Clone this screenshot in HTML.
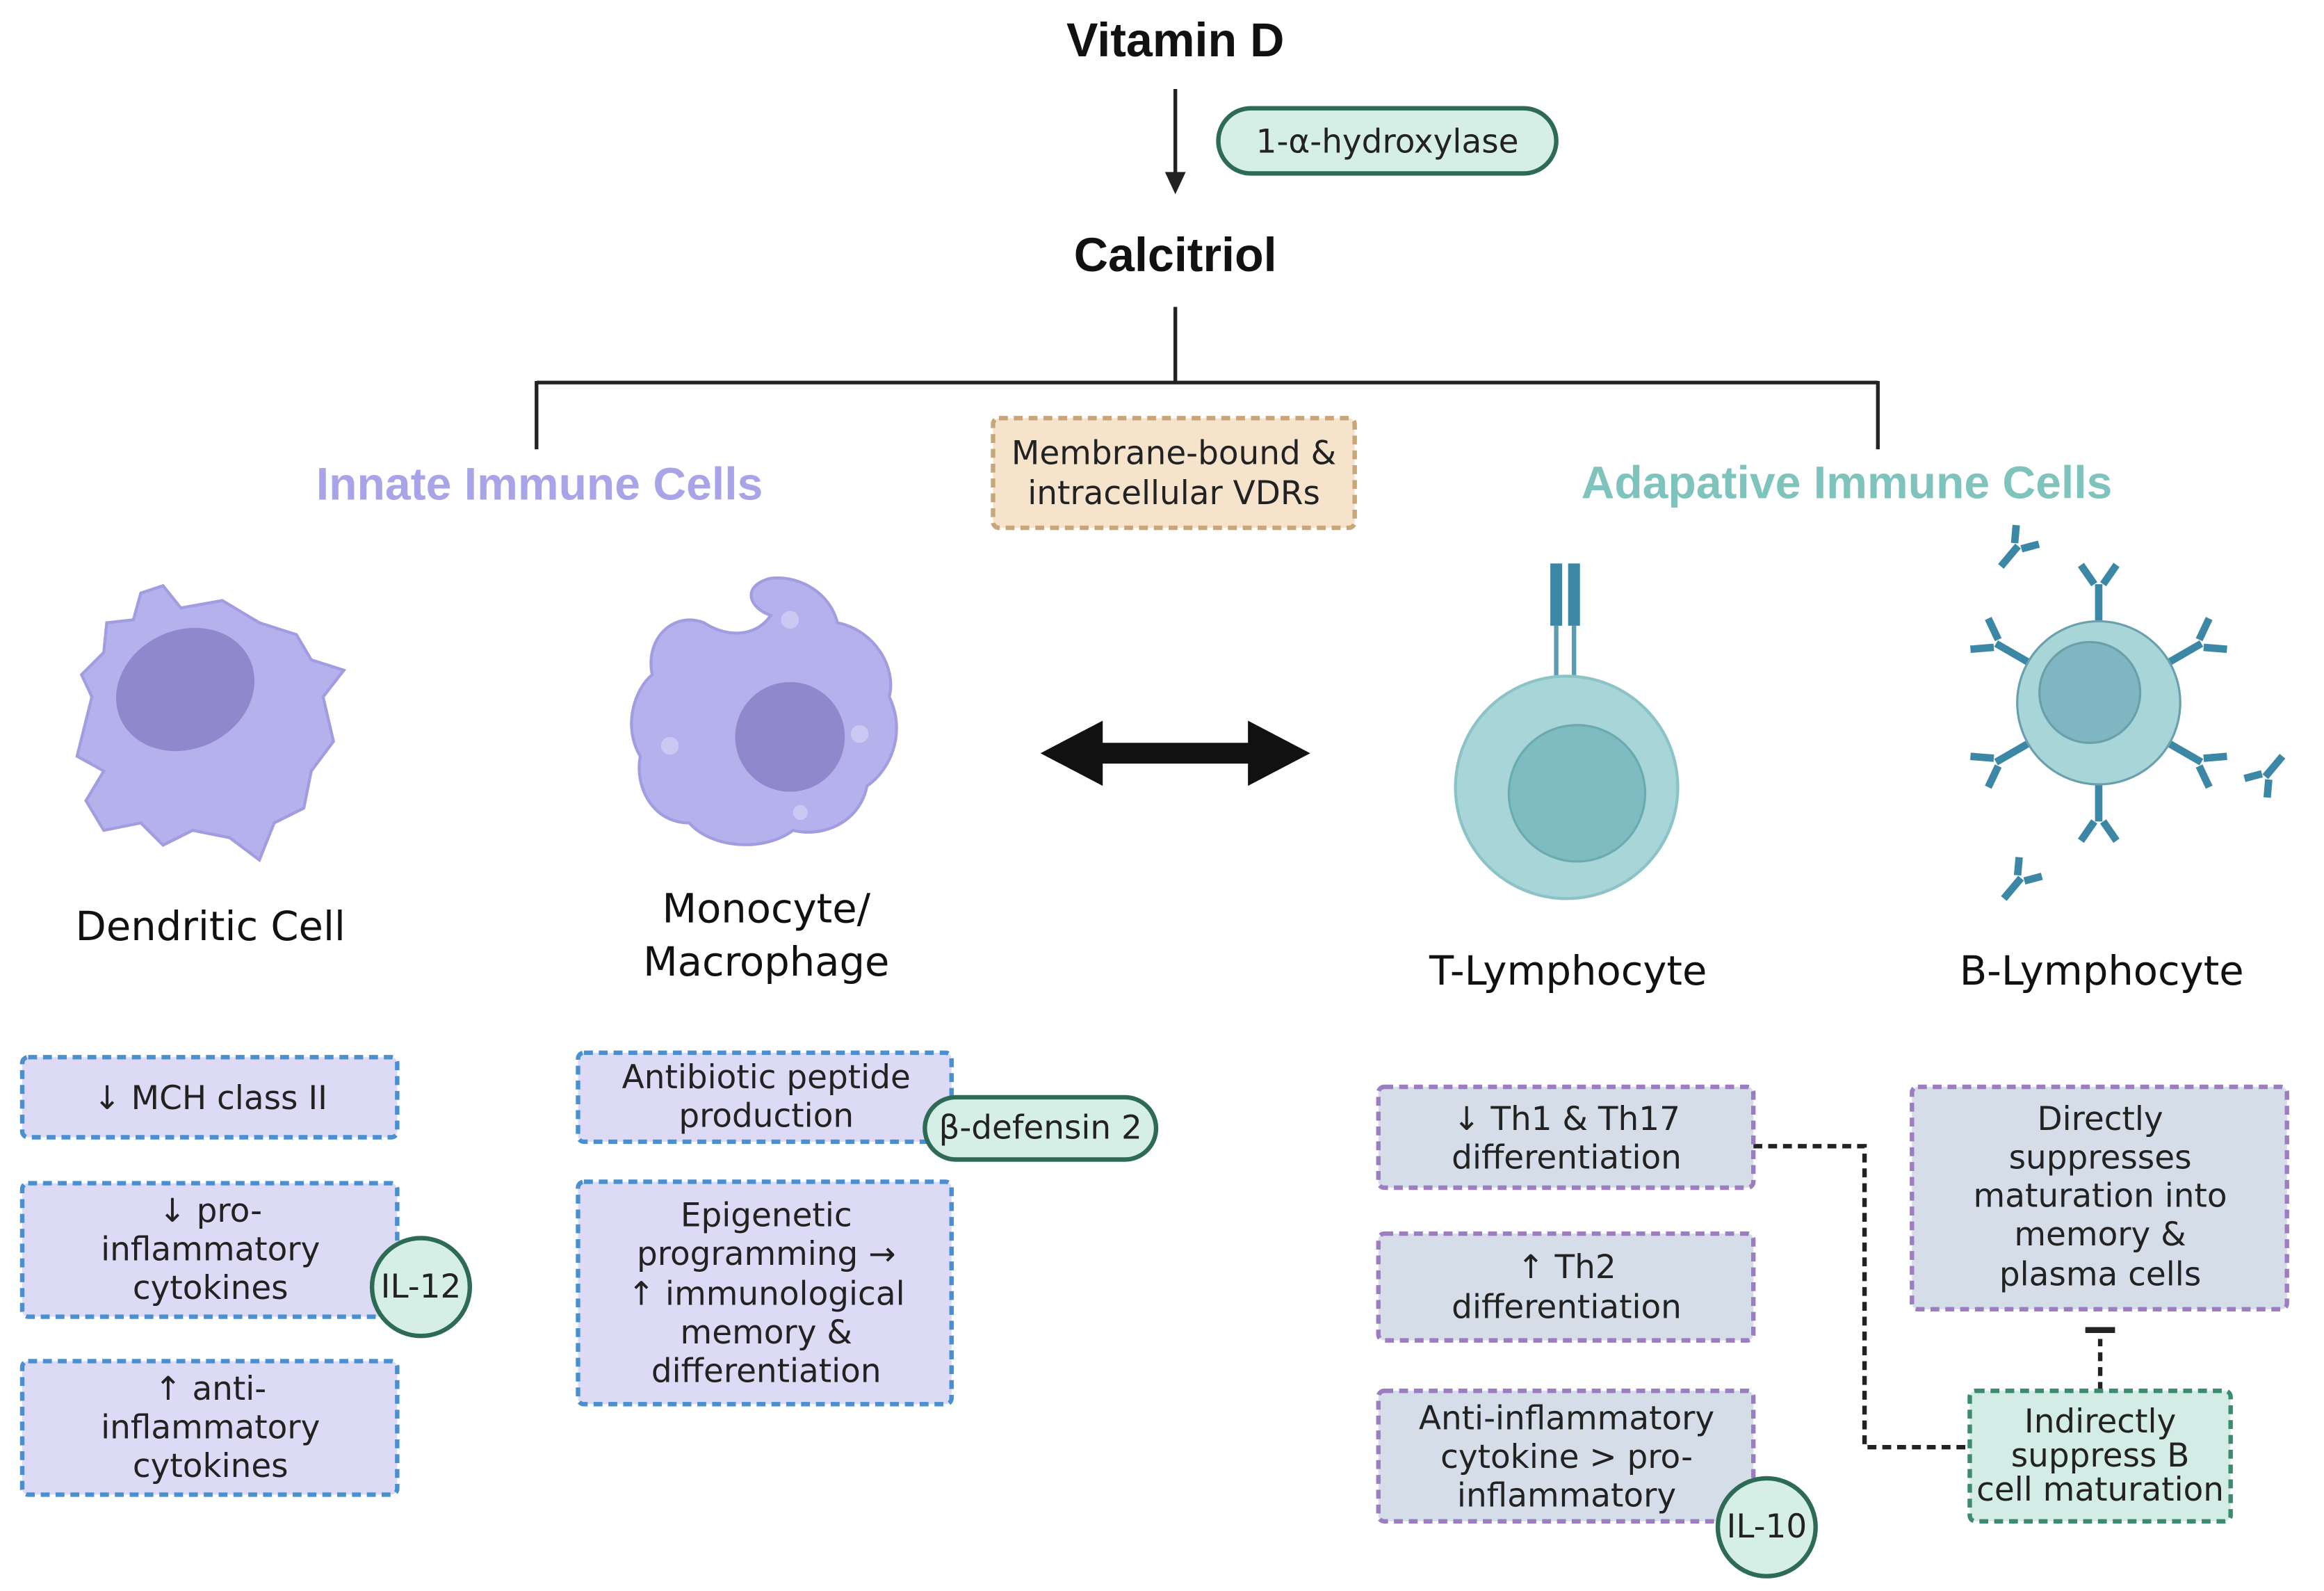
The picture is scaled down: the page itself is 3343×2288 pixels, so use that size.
<!DOCTYPE html>
<html><head><meta charset="utf-8"><style>
html,body{margin:0;padding:0;background:#fff;}
svg{display:block;}
.t{font-family:"DejaVu Sans","Liberation Sans",sans-serif;font-size:22px;fill:#222;text-anchor:middle;}
.h{font-family:"Liberation Sans",sans-serif;font-weight:bold;text-anchor:middle;}
.lab{font-family:"DejaVu Sans","Liberation Sans",sans-serif;font-size:27px;fill:#111;text-anchor:middle;}
.bb{fill:#dcdaf4;stroke:#4a8fcf;stroke-width:3;stroke-dasharray:6 4;}
.pb{fill:#d4dde8;stroke:#9b7dc0;stroke-width:3;stroke-dasharray:6 4;}
.ab{fill:none;stroke:#3d87a6;stroke-width:5;stroke-linecap:butt;}
</style></head><body>
<svg width="3343" height="2288" viewBox="0 0 1568 1073" preserveAspectRatio="none" xmlns="http://www.w3.org/2000/svg">
<defs><marker id="ah" markerWidth="10" markerHeight="10" refX="5" refY="5" orient="auto" markerUnits="userSpaceOnUse"><path d="M0,0 L10,5 L0,10 z" fill="#222"/></marker></defs>
<text class="h" x="793" y="38" font-size="32" fill="#111">Vitamin D</text>
<line x1="793" y1="60" x2="793" y2="122" stroke="#222" stroke-width="2.5"/>
<path d="M786,116 L793,131 L800,116 z" fill="#222"/>
<rect x="822" y="73" width="228" height="44" rx="22" fill="#d5efe6" stroke="#2e6b55" stroke-width="3"/>
<text class="t" x="936" y="103" font-size="21">1-α-hydroxylase</text>
<text class="h" x="793" y="183" font-size="32" fill="#111">Calcitriol</text>
<path d="M793,207 V258 M362,258 H1267 M362,257 V303 M1267,257 V303" stroke="#222" stroke-width="2.5" fill="none"/>
<text class="h" x="364" y="337" font-size="31" fill="#a9a4e8">Innate Immune Cells</text>
<text class="h" x="1246" y="336" font-size="31" fill="#7fc4bc">Adapative Immune Cells</text>
<rect x="670" y="282" width="244" height="74" rx="4" fill="#f5e3cc" stroke="#c9a57a" stroke-width="3" stroke-dasharray="6 4"/>
<text class="t" x="792" y="313" font-size="20" fill="#333">Membrane-bound &amp;</text>
<text class="t" x="792" y="340" font-size="20" fill="#333">intracellular VDRs</text>
<!-- double arrow -->
<path d="M702,508 L744,486 L744,501 L842,501 L842,486 L884,508 L842,530 L842,515 L744,515 L744,530 z" fill="#111"/>
<!-- dendritic -->
<path d="M95,400 L110,395 L122,410 L150,405 L175,420 L200,428 L210,445 L232,452 L218,470 L225,500 L210,520 L205,545 L185,555 L175,580 L155,565 L130,560 L110,570 L95,555 L70,560 L58,540 L70,520 L52,510 L62,470 L55,455 L70,440 L72,420 L90,418 z" fill="#b4b1ec" stroke="#a19de0" stroke-width="2"/>
<ellipse cx="125" cy="465" rx="48" ry="40" transform="rotate(-25 125 465)" fill="#8f88cc"/>
<!-- monocyte -->
<path d="M520,390 C540,388 560,400 565,420 C590,425 605,450 600,470 C612,495 600,520 585,530 C580,555 555,565 535,560 C515,575 480,572 465,555 C440,555 428,530 432,510 C420,490 428,465 440,455 C435,430 455,412 475,420 C490,430 510,430 520,415 C505,410 500,395 520,390 z" fill="#b4b1ec" stroke="#a19de0" stroke-width="2"/>
<circle cx="533" cy="497" r="37" fill="#8f88cc"/>
<circle cx="533" cy="418" r="6" fill="#cbc8f4"/><circle cx="452" cy="503" r="6" fill="#cbc8f4"/><circle cx="580" cy="495" r="6" fill="#cbc8f4"/><circle cx="540" cy="548" r="5" fill="#cbc8f4"/>
<text class="lab" x="142" y="634">Dendritic Cell</text>
<text class="lab" x="517" y="622">Monocyte/</text>
<text class="lab" x="517" y="658">Macrophage</text>
<!-- T cell -->
<rect x="1046" y="380" width="8" height="42" fill="#3d87a6"/><rect x="1058" y="380" width="8" height="42" fill="#3d87a6"/>
<path d="M1050,422 V466 M1062,422 V466" stroke="#5a9cb5" stroke-width="3"/>
<circle cx="1057" cy="531" r="75" fill="#a8d5d7" stroke="#8cc3c6" stroke-width="2"/>
<circle cx="1064" cy="535" r="46" fill="#7fbcc1" stroke="#6aaab0" stroke-width="1.5"/>
<text class="lab" x="1058" y="664">T-Lymphocyte</text>
<!-- B cell -->
<g class="ab">
<g transform="translate(1416,474) rotate(0)"><path d="M0,-55 V-80 M-3,-80 L-12,-93 M3,-80 L12,-93"/></g>
<g transform="translate(1416,474) rotate(60)"><path d="M0,-55 V-80 M-3,-80 L-12,-93 M3,-80 L12,-93"/></g>
<g transform="translate(1416,474) rotate(120)"><path d="M0,-55 V-80 M-3,-80 L-12,-93 M3,-80 L12,-93"/></g>
<g transform="translate(1416,474) rotate(180)"><path d="M0,-55 V-80 M-3,-80 L-12,-93 M3,-80 L12,-93"/></g>
<g transform="translate(1416,474) rotate(240)"><path d="M0,-55 V-80 M-3,-80 L-12,-93 M3,-80 L12,-93"/></g>
<g transform="translate(1416,474) rotate(300)"><path d="M0,-55 V-80 M-3,-80 L-12,-93 M3,-80 L12,-93"/></g>
<g transform="translate(1350,382) rotate(40)"><path d="M0,0 V-18 M-3,-18 L-10,-28 M3,-18 L10,-28"/></g>
</g>
<g class="ab" stroke="#a9c4cf">
<g transform="translate(1540,510) rotate(-140)"><path d="M0,0 V-18 M-3,-18 L-10,-28 M3,-18 L10,-28"/></g>
<g transform="translate(1352,606) rotate(40)"><path d="M0,0 V-18 M-3,-18 L-10,-28 M3,-18 L10,-28"/></g>
</g>
<circle cx="1416" cy="474" r="55" fill="#a8d5d7" stroke="#6a9fae" stroke-width="1.5"/>
<circle cx="1410" cy="467" r="34" fill="#7fb6c1" stroke="#6aa0ab" stroke-width="1.5"/>
<text class="lab" x="1418" y="664">B-Lymphocyte</text>
<!-- left boxes -->
<rect class="bb" x="15" y="713" width="253" height="54" rx="4"/>
<text class="t" x="142" y="748">↓ MCH class II</text>
<rect class="bb" x="15" y="798" width="253" height="90" rx="4"/>
<text class="t" x="142" y="824">↓ pro-</text><text class="t" x="142" y="850">inflammatory</text><text class="t" x="142" y="876">cytokines</text>
<rect class="bb" x="15" y="918" width="253" height="90" rx="4"/>
<text class="t" x="142" y="944">↑ anti-</text><text class="t" x="142" y="970">inflammatory</text><text class="t" x="142" y="996">cytokines</text>
<circle cx="284" cy="868" r="33" fill="#d5efe6" stroke="#2e6b55" stroke-width="3"/>
<text class="t" x="284" y="875" font-size="19">IL-12</text>
<rect class="bb" x="390" y="710" width="252" height="60" rx="4"/>
<text class="t" x="517" y="734">Antibiotic peptide</text><text class="t" x="517" y="760">production</text>
<rect x="624" y="740" width="156" height="42" rx="21" fill="#d5efe6" stroke="#2e6b55" stroke-width="3"/>
<text class="t" x="702" y="768" font-size="20">β-defensin 2</text>
<rect class="bb" x="390" y="797" width="252" height="150" rx="4"/>
<text class="t" x="517" y="827">Epigenetic</text><text class="t" x="517" y="853">programming →</text><text class="t" x="517" y="880">↑ immunological</text><text class="t" x="517" y="906">memory &amp;</text><text class="t" x="517" y="932">differentiation</text>
<!-- right boxes -->
<path d="M1183,773 H1258 V976 H1329" fill="none" stroke="#222" stroke-width="3" stroke-dasharray="6 4"/>
<path d="M1417,938 V903 M1407,897 H1427" fill="none" stroke="#222" stroke-width="3" stroke-dasharray="6 4"/>
<rect x="1407" y="895" width="20" height="4" fill="#222"/>
<rect class="pb" x="930" y="733" width="253" height="68" rx="4"/>
<text class="t" x="1057" y="762">↓ Th1 &amp; Th17</text><text class="t" x="1057" y="788">differentiation</text>
<rect class="pb" x="930" y="832" width="253" height="72" rx="4"/>
<text class="t" x="1057" y="862">↑ Th2</text><text class="t" x="1057" y="889">differentiation</text>
<rect class="pb" x="930" y="938" width="253" height="88" rx="4"/>
<text class="t" x="1057" y="964">Anti-inflammatory</text><text class="t" x="1057" y="990">cytokine &gt; pro-</text><text class="t" x="1057" y="1016">inflammatory</text>
<circle cx="1192" cy="1030" r="33" fill="#d5efe6" stroke="#2e6b55" stroke-width="3"/>
<text class="t" x="1192" y="1037" font-size="19">IL-10</text>
<rect class="pb" x="1290" y="733" width="253" height="150" rx="4"/>
<text class="t" x="1417" y="762">Directly</text><text class="t" x="1417" y="788">suppresses</text><text class="t" x="1417" y="814">maturation into</text><text class="t" x="1417" y="840">memory &amp;</text><text class="t" x="1417" y="867">plasma cells</text>
<rect x="1329" y="938" width="176" height="88" rx="4" fill="#d4ece6" stroke="#3c8a70" stroke-width="3" stroke-dasharray="6 4"/>
<text class="t" x="1417" y="966" font-size="19">Indirectly</text><text class="t" x="1417" y="989" font-size="19">suppress B</text><text class="t" x="1417" y="1012" font-size="19">cell maturation</text>
</svg>
</body></html>
